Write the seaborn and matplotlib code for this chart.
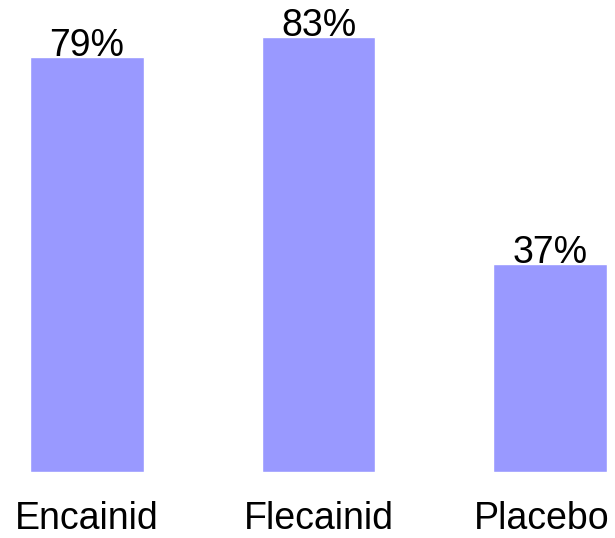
import matplotlib
matplotlib.use("Agg")
import matplotlib.pyplot as plt
import seaborn as sns
import pandas as pd

# datos
drugs = ["Encainid", "Flecainid", "Placebo"]
pct = [79, 83, 37]

df = pd.DataFrame({"drug": drugs, "pct": pct})

sns.set_style("white")
plt.rcParams["font.family"] = ["Liberation Sans", "DejaVu Sans"]

fig = plt.figure(figsize=(6.15, 5.38), dpi=100)
ax = fig.add_axes([0, 66 / 538, 1, 472 / 538])

sns.barplot(data=df, x="drug", y="pct", color="#9999ff", saturation=1,
            width=0.49, ax=ax)

# las barras arrancan desde el piso del eje (como en el original)
base = -5.3
for p in ax.patches:
    p.set_y(base)
    p.set_height(p.get_height() - base)

ax.set_xlim(-0.375, 2.28)
ax.set_ylim(base, 90.5)
ax.set_axis_off()

# etiquetas de valores y categorias
for i, (d, v) in enumerate(zip(drugs, pct)):
    ax.text(i, v + 0.2, f"{v}%", ha="center", va="baseline", fontsize=27,
            color="black")
    # la ultima etiqueta se corre un poco para que no se corte en el borde
    dx = -0.035 if i == len(drugs) - 1 else 0
    ax.text(i + dx, base - 11.5, d, ha="center", va="baseline", fontsize=27,
            color="black", clip_on=False)

fig.savefig("out.png", dpi=100)
